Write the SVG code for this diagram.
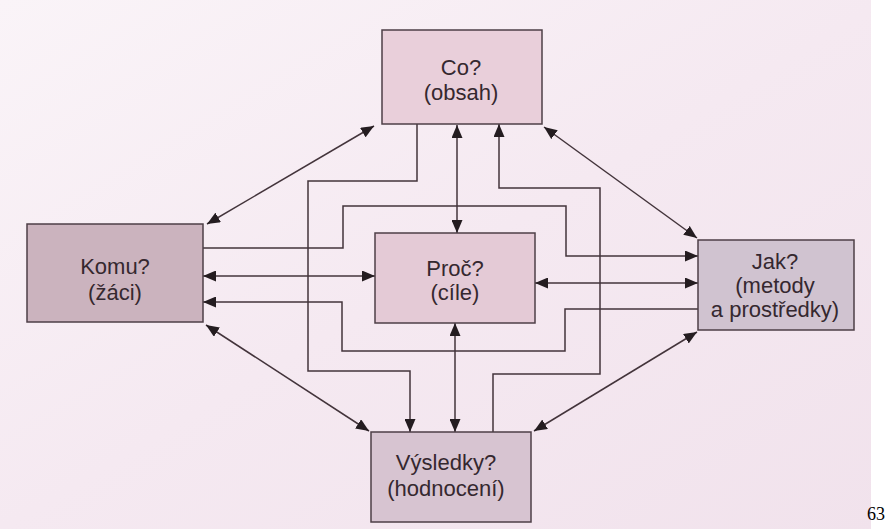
<svg xmlns="http://www.w3.org/2000/svg" width="886" height="529" viewBox="0 0 886 529">
<defs>
<linearGradient id="bg" x1="0" y1="0" x2="1" y2="1">
<stop offset="0" stop-color="#faf4f8"/>
<stop offset="0.5" stop-color="#f5e9f1"/>
<stop offset="1" stop-color="#f1e2ec"/>
</linearGradient>
<marker id="ah" viewBox="0 0 13 11" refX="13" refY="5.5" markerWidth="13" markerHeight="11" markerUnits="userSpaceOnUse" orient="auto-start-reverse">
<path d="M0,0 L13,5.5 L0,11 z" fill="#241c20"/>
</marker>
</defs>
<style>
.box{stroke:#4e3f47;stroke-width:1.5}
.t{font-family:"Liberation Sans",Arial,sans-serif;font-size:22px;fill:#35282f;text-anchor:middle}
.c{fill:none;stroke:#43343b;stroke-width:1.5}
.two{marker-start:url(#ah);marker-end:url(#ah)}
.one{marker-end:url(#ah)}
</style>
<rect x="0" y="0" width="886" height="529" fill="url(#bg)"/>
<rect x="871" y="0" width="15" height="529" fill="#ffffff"/>
<text x="867" y="520" font-family="Liberation Serif,serif" font-size="18" fill="#000">63</text>
<g id="connectors">
<line class="c two" x1="374" y1="126" x2="207" y2="224"/>
<line class="c two" x1="544" y1="127" x2="697" y2="238"/>
<line class="c two" x1="206" y1="325" x2="369" y2="431"/>
<line class="c two" x1="697" y1="332" x2="534" y2="431"/>
<line class="c two" x1="457" y1="125" x2="457" y2="233"/>
<line class="c two" x1="455" y1="323" x2="455" y2="432"/>
<line class="c two" x1="203" y1="276" x2="375" y2="276"/>
<line class="c two" x1="535" y1="283" x2="698" y2="283"/>
<path class="c one" d="M203,248 H343 V206 H566 V256 H698"/>
<path class="c one" d="M698,309 H565 V351 H342 V302 H203"/>
<path class="c one" d="M417,124 V181 H308 V371 H410 V432"/>
<path class="c one" d="M493,432 V374 H600 V188 H499 V124"/>
</g>
<g id="co">
<rect class="box" x="382" y="30" width="160" height="94" fill="#e9cfda"/>
<text class="t" x="461" y="75">Co?</text>
<text class="t" x="461" y="100">(obsah)</text>
</g>
<g id="komu">
<rect class="box" x="27" y="224" width="176" height="98" fill="#cbb3be"/>
<text class="t" x="115" y="274">Komu?</text>
<text class="t" x="115" y="300">(žáci)</text>
</g>
<g id="proc">
<rect class="box" x="375" y="233" width="160" height="90" fill="#e4cad6"/>
<text class="t" x="455" y="276">Proč?</text>
<text class="t" x="455" y="300">(cíle)</text>
</g>
<g id="jak">
<rect class="box" x="698" y="240" width="156" height="90" fill="#d0c3d0"/>
<text class="t" x="775" y="269">Jak?</text>
<text class="t" x="775" y="293">(metody</text>
<text class="t" x="775" y="317">a prostředky)</text>
</g>
<g id="vysledky">
<rect class="box" x="371" y="432" width="160" height="90" fill="#d7c4d1"/>
<text class="t" x="446" y="470">Výsledky?</text>
<text class="t" x="446" y="496">(hodnocení)</text>
</g>
</svg>
